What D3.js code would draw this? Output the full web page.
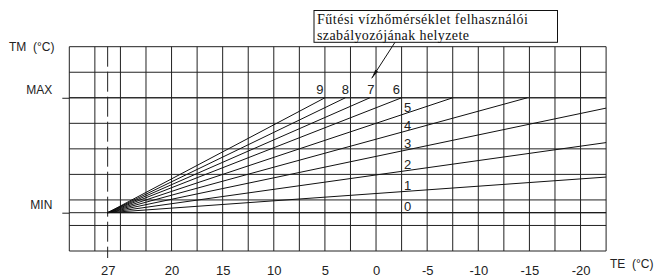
<!DOCTYPE html>
<html>
<head>
<meta charset="utf-8">
<script src="https://cdn.jsdelivr.net/npm/d3@7"></script>
<style>
  body { margin: 0; background: #fff; }
  svg { display: block; }
  text { font-family: "Liberation Sans", Arial, sans-serif; fill: #222; }
  .note text { font-family: "Liberation Serif", "Times New Roman", serif; fill: #111; }
</style>
</head>
<body>
<script>

// ---- data ----
// outside temperature (TE) tick labels
var teTicks = [27, 20, 15, 10, 5, 0, -5, -10, -15, -20];
// TM axis: 0 = MIN, 1 = MAX
var tmTicks = [0, 1];
var tmLabels = ['MIN', 'MAX'];
// heating curves, all start at TE 27 / MIN
var curveStartTE = 27;
var curveStartTM = 0;
var curveIds   = [0, 1, 2, 3, 4, 5, 6, 7, 8, 9];
var curveEndTE = [-22.5, -22.5, -22.5, -22.5, -14.8, -7.5, -2.5, 0.6, 3, 5];
var curveEndTM = [0, 0.31, 0.61, 0.91, 1, 1, 1, 1, 1, 1];
var noteLines = ['Fűtési vízhőmérséklet felhasználói', 'szabályozójának helyzete'];

// ---- layout ----
var W = 656, H = 278;
var cols = 21, rows = 8;
var gLeft = 69.3, gRight = 606.1, gTop = 46.7, gBottom = 251;

var svg = d3.select('body').append('svg')
            .attr('width', W)
            .attr('height', H);

// grid cell scales
var gx = d3.scaleLinear().domain([0, cols]).range([gLeft, gRight]);
var gy = d3.scaleLinear().domain([0, rows]).range([gBottom, gTop]);

// TE scale: 2.5 degC per cell, the 27 marker sits at 1.5 cells
var xScale = d3.scaleLinear()
               .domain([27, 20, -22.5])
               .range([gx(1.5), gx(4), gx(21)]);
// TM scale: MIN at 1.5 rows, MAX at 6 rows
var yScale = d3.scaleLinear()
               .domain([0, 1])
               .range([gy(1.5), gy(6)]);

var grid = svg.append('g')
              .attr('stroke', '#222')
              .attr('stroke-width', 1);

grid.selectAll('.vline')
    .data(d3.range(cols + 1))
    .enter().append('line')
    .attr('class', 'vline')
    .attr('x1', function(d) { return gx(d); })
    .attr('x2', function(d) { return gx(d); })
    .attr('y1', gTop)
    .attr('y2', gBottom);

grid.selectAll('.hline')
    .data(d3.range(rows + 1))
    .enter().append('line')
    .attr('class', 'hline')
    .attr('x1', gLeft)
    .attr('x2', gRight)
    .attr('y1', function(d) { return gy(d); })
    .attr('y2', function(d) { return gy(d); });

// dashed 27 degC marker
svg.append('line')
   .attr('x1', xScale(curveStartTE))
   .attr('x2', xScale(curveStartTE))
   .attr('y1', gTop)
   .attr('y2', gBottom + 7)
   .attr('stroke', '#222')
   .attr('stroke-width', 1)
   .attr('stroke-dasharray', '20,5');

// y axis: MIN / MAX lines stick out to the left
var yAxis = d3.axisLeft(yScale)
              .tickValues(tmTicks)
              .tickSize(7)
              .tickPadding(10)
              .tickFormat(function(d, i) { return tmLabels[i]; });

var gY = svg.append('g')
            .attr('transform', 'translate(' + gLeft + ',0)')
            .call(yAxis);
gY.select('.domain').remove();
gY.selectAll('line').attr('stroke', '#222');
gY.selectAll('text')
  .attr('dy', '-0.36em')
  .style('font-family', '"Liberation Sans", Arial, sans-serif')
  .style('font-size', '12px')
  .attr('fill', '#222');

// MIN / MAX run across the whole grid
svg.selectAll('.tmline')
   .data(tmTicks)
   .enter().append('line')
   .attr('class', 'tmline')
   .attr('x1', gLeft)
   .attr('x2', gRight)
   .attr('y1', function(d) { return yScale(d); })
   .attr('y2', function(d) { return yScale(d); })
   .attr('stroke', '#222');

// x axis: labels only
var xAxis = d3.axisBottom(xScale)
              .tickValues(teTicks)
              .tickSize(0)
              .tickPadding(15)
              .tickFormat(function(d) { return d < 0 ? '-' + (-d) : d; });

var gX = svg.append('g')
            .attr('transform', 'translate(0,' + gBottom + ')')
            .call(xAxis);
gX.select('.domain').remove();
gX.selectAll('text')
  .style('font-family', '"Liberation Sans", Arial, sans-serif')
  .style('font-size', '13px')
  .attr('fill', '#222');

// axis titles
svg.append('text')
   .attr('x', 9)
   .attr('y', 50.7)
   .style('font-size', '12px')
   .style('white-space', 'pre')
   .text('TM  (°C)');
svg.append('text')
   .attr('x', 610)
   .attr('y', 268)
   .style('font-size', '12px')
   .style('white-space', 'pre')
   .text('TE  (°C)');

// ---- heating curves ----
var curves = curveIds.map(function(id, i) {
  return {
    id: id,
    x0: xScale(curveStartTE), y0: yScale(curveStartTM),
    x1: xScale(curveEndTE[i]), y1: yScale(curveEndTM[i]),
    endTE: curveEndTE[i], endTM: curveEndTM[i]
  };
});

svg.append('g')
   .selectAll('line')
   .data(curves)
   .enter().append('line')
   .attr('x1', function(d) { return d.x0; })
   .attr('y1', function(d) { return d.y0; })
   .attr('x2', function(d) { return d.x1; })
   .attr('y2', function(d) { return d.y1; })
   .attr('stroke', '#111')
   .attr('stroke-width', 1);

// labels: curves that reach MAX are labelled above it, the rest beside the -2.5 line
var sideX = xScale(-2.5) + 2.5;
function curveY(d, x) {
  return d.y0 + (d.y1 - d.y0) * (x - d.x0) / (d.x1 - d.x0);
}
function onTop(d) { return d.endTM >= 1 && d.endTE > -5; }

svg.append('g')
   .selectAll('text')
   .data(curves)
   .enter().append('text')
   .style('font-size', '13px')
   .attr('text-anchor', function(d) { return onTop(d) ? 'end' : 'start'; })
   .attr('x', function(d) {
     if (onTop(d)) return xScale(Math.floor(d.endTE / 2.5) * 2.5) - 1.5;
     return sideX;
   })
   .attr('y', function(d) {
     if (onTop(d)) return yScale(1) - 3.5;
     return curveY(d, sideX) - 2;
   })
   .text(function(d) { return d.id; });

// ---- note box with leader ----
var note = svg.append('g').attr('class', 'note');
var boxX = 314, boxY = 10.5, boxW = 243.5, boxH = 31.8;
note.append('rect')
    .attr('x', boxX)
    .attr('y', boxY)
    .attr('width', boxW)
    .attr('height', boxH)
    .attr('fill', '#fff')
    .attr('stroke', '#111')
    .attr('stroke-width', 1);

var noteWidths = [211, 152];
note.selectAll('text')
    .data(noteLines)
    .enter().append('text')
    .attr('x', boxX + 3)
    .attr('y', function(d, i) { return boxY + 13.5 + i * 15.5; })
    .attr('textLength', function(d, i) { return noteWidths[i]; })
    .attr('lengthAdjust', 'spacing')
    .style('font-size', '14px')
    .text(function(d) { return d; });

// leader to label 7
var tipX = xScale(0) - 4.3, tipY = yScale(1) - 19.5;
var baseX = 395, baseY = boxY + boxH;
note.append('line')
    .attr('x1', baseX)
    .attr('y1', baseY)
    .attr('x2', tipX)
    .attr('y2', tipY)
    .attr('stroke', '#111')
    .attr('stroke-width', 1);

var ang = Math.atan2(tipY - baseY, tipX - baseX);
var aLen = 9, aHalf = 1.6;
var bx = tipX - aLen * Math.cos(ang), by = tipY - aLen * Math.sin(ang);
note.append('polygon')
    .attr('points', [
      [tipX, tipY],
      [bx + aHalf * Math.sin(ang), by - aHalf * Math.cos(ang)],
      [bx - aHalf * Math.sin(ang), by + aHalf * Math.cos(ang)]
    ].join(' '))
    .attr('fill', '#111');

</script>
</body>
</html>
